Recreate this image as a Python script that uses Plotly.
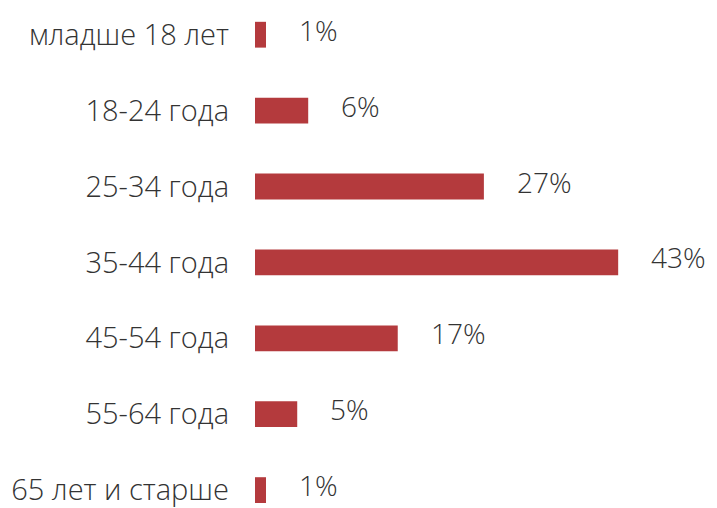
import plotly.graph_objects as go

categories = ["младше 18 лет", "18-24 года", "25-34 года", "35-44 года",
              "45-54 года", "55-64 года", "65 лет и старше"]
values = [1.3, 6.3, 27.1, 43.0, 16.9, 5.0, 1.3]
value_labels = ["1%", "6%", "27%", "43%", "17%", "5%", "1%"]

bar_color = "#b43a3d"
text_color = "#333333"
font_family = "Open Sans"

fig = go.Figure()
fig.add_trace(go.Bar(
    y=categories, x=values, orientation="h",
    marker=dict(color=bar_color, line=dict(width=0)),
    width=0.34, hoverinfo="skip",
))

for c, v, t in zip(categories, values, value_labels):
    fig.add_annotation(x=v, y=c, text=t, showarrow=False,
                       xanchor="left", yanchor="middle",
                       xshift=31, yshift=5,
                       font=dict(family=font_family, size=28, color=text_color, weight=300))

# page body has an 8px margin, so the figure is sized to fill the rest of the window
fig.update_layout(
    width=709, height=500,
    margin=dict(l=247, r=0, t=0, b=0),
    paper_bgcolor="white", plot_bgcolor="white",
    showlegend=False,
    xaxis=dict(range=[0, 54.7], visible=False, fixedrange=True),
    yaxis=dict(categoryorder="array", categoryarray=categories,
               range=[6.17, -0.352], showgrid=False, zeroline=False,
               showline=False, ticks="", ticklabelstandoff=25,
               tickfont=dict(family=font_family, size=29, color=text_color, weight=300)),
)

fig.write_html("out.html")
